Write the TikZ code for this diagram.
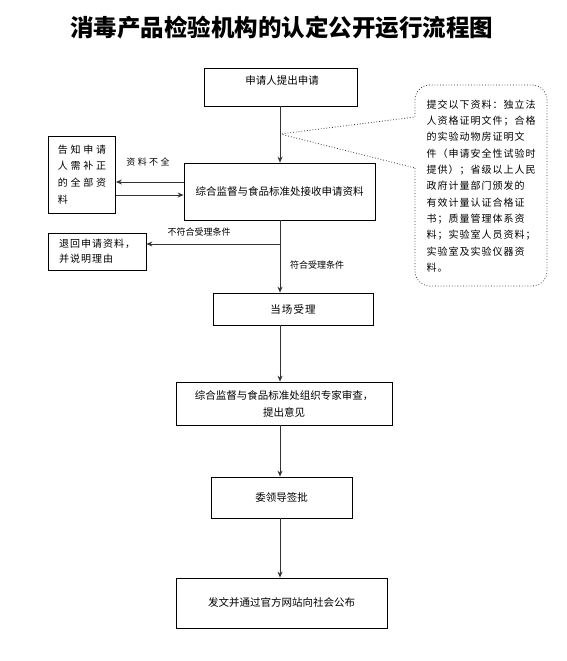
\documentclass[tikz,border=0pt]{standalone}
\usepackage{fontspec}
\usepackage{tikz}
\usetikzlibrary{arrows.meta}
\setmainfont{Noto Sans CJK SC}
\newfontfamily\wide[LetterSpace=27]{Noto Sans CJK SC}
\newfontfamily\semiwide[LetterSpace=10]{Noto Sans CJK SC}

\begin{document}
\begin{tikzpicture}[x=1pt, y=-1pt, >={Stealth[length=6pt,width=5pt]},
    box/.style={draw=black, line width=0.8pt, inner sep=0pt, align=center,
      font=\fontsize{10.5}{17}\selectfont},
    flow/.style={->, draw=black!80, line width=0.9pt},
    note/.style={font=\fontsize{9}{11}\selectfont}]
    \useasboundingbox (0,0) rectangle (567,661);
    % ── Titre ───────────────────────────────────────────────────────────────
    \node[font=\fontsize{23.5}{26}\selectfont\bfseries] (title) at (281.5,28)
      {消毒产品检验机构的认定公开运行流程图};
    % ── Colonne principale ──────────────────────────────────────────────────
    \node[box, minimum width=153pt, minimum height=38pt] (apply) at (280.5,87) {};
    \node[font=\fontsize{10.5}{12}\selectfont] (applytxt) at (282,81) {申请人提出申请};
    \node[box, minimum width=191pt, minimum height=57pt] (receive) at (279.5,191.5)
      {综合监督与食品标准处接收申请资料};
    \node[box, minimum width=160pt, minimum height=32pt] (accept) at (293,309)
      {\semiwide 当场受理};
    \node[box, minimum width=216pt, minimum height=43pt] (review) at (284,403.5)
      {综合监督与食品标准处组织专家审查，\\提出意见};
    \node[box, minimum width=141pt, minimum height=41pt] (approve) at (281.5,497.5)
      {委领导签批};
    \node[box, minimum width=211pt, minimum height=50pt] (publish) at (281.5,603)
      {发文并通过官方网站向社会公布};
    % ── Branches à gauche ───────────────────────────────────────────────────
    \node[box, minimum width=67pt, minimum height=77pt, align=left,
      font=\fontsize{10}{16.7}\selectfont\wide] (notify) at (82,174.5)
      {告知申请\\人需补正\\的全部资\\料};
    \node[box, minimum width=98pt, minimum height=37pt, align=left,
      font=\fontsize{10}{15}\selectfont\semiwide] (reject) at (97,251.5)
      {退回申请资料，\\并说明理由\hphantom{资料}};
    % ── Connecteurs ─────────────────────────────────────────────────────────
    \coordinate (spine) at (280,0);
    \coordinate (tip) at (280,134);
    \coordinate (fork) at (280,244);
    \draw[flow] (apply.south -| spine) -- (receive.north -| spine);
    \draw[flow] ([yshift=9.5pt]receive.west) -- ([yshift=9.5pt]receive.west -| notify.east);
    \draw[flow] ([yshift=-20.5pt]notify.east) -- ([yshift=-20.5pt]notify.east -| receive.west);
    \draw[flow] (receive.south -| spine) -- (accept.north -| spine);
    \draw[flow] (fork) -- (fork -| reject.east);
    \draw[flow] (accept.south -| spine) -- (review.north -| spine);
    \draw[flow] (review.south -| spine) -- (approve.north -| spine);
    \draw[flow] (approve.south -| spine) -- (publish.north -| spine);
    % ── Étiquettes ──────────────────────────────────────────────────────────
    \node[note, font=\fontsize{9}{11}\selectfont\wide] (incomplete) at (148,162) {资料不全};
    \node[note] (unqualified) at (199,232) {不符合受理条件};
    \node[note] (qualified) at (317,265) {符合受理条件};
    % ── Bulle de texte (pointillés) ─────────────────────────────────────────
    \node[align=left, font=\fontsize{10}{16.3}\selectfont\semiwide] (docs) at (481,186)
      {提交以下资料：独立法\\人资格证明文件；合格\\的实验动物房证明文\\件（申请安全性试验时\\
       提供）；省级以上人民\\政府计量部门颁发的\\有效计量认证合格证\\书；质量管理体系资\\
       料；实验室人员资料；\\实验室及实验仪器资\\料。};
    \draw[black!80, dotted, line width=0.8pt]
      (415,168) [rounded corners=15pt] -- (415,286) -- (547,286) -- (547,85) -- (415,85)
      [sharp corners] -- (415,117) -- (tip) -- (415,168);
  \end{tikzpicture}
\end{document}
